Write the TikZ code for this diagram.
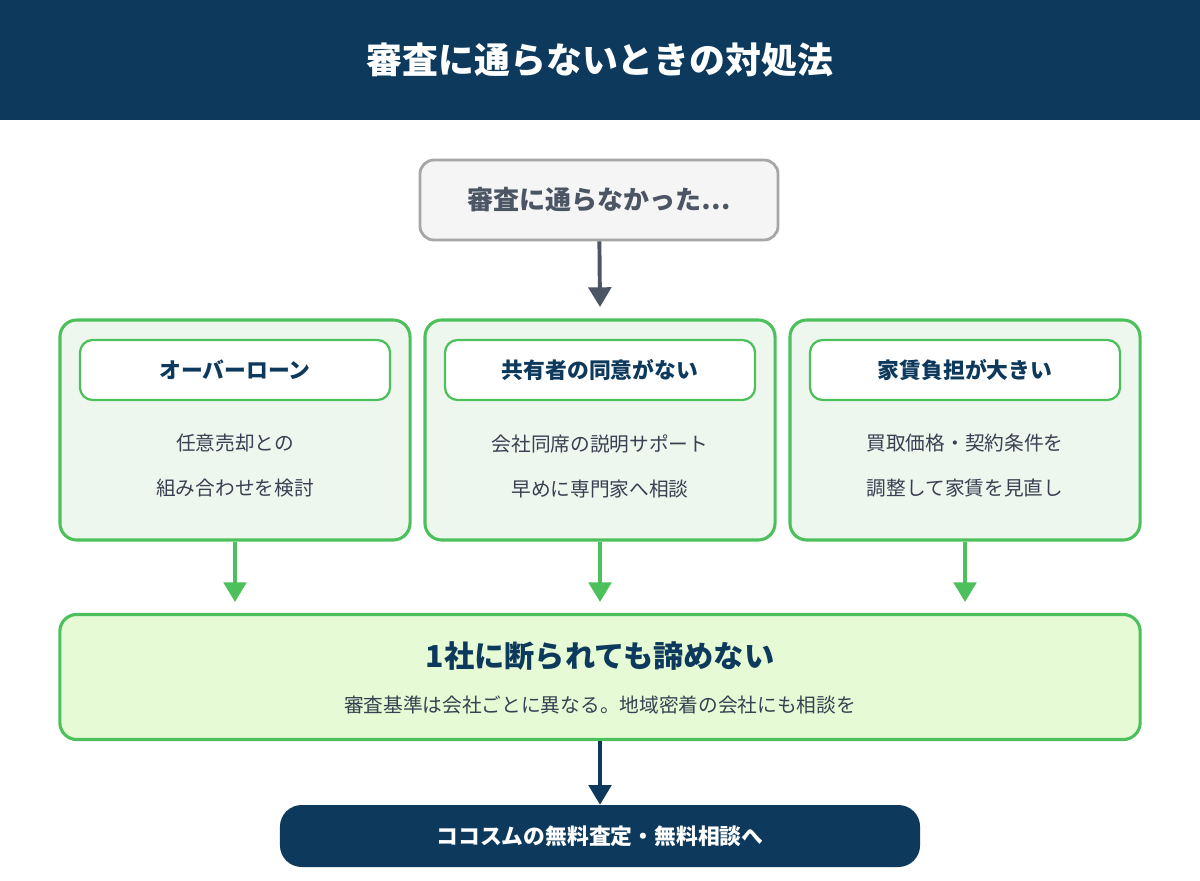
\documentclass[tikz,border=0pt]{standalone}
\usepackage{fontspec}
\setmainfont{Noto Sans CJK JP}
\usetikzlibrary{arrows.meta, positioning}
\definecolor{navy}{HTML}{0D3A5C}
\definecolor{leaf}{HTML}{4CC05A}
\definecolor{pale}{HTML}{EEF7EE}
\definecolor{lime}{HTML}{E6FBD5}
\definecolor{slate}{HTML}{4B5563}
\definecolor{ink}{HTML}{374151}
\tikzset{
  panel/.style={draw=leaf, line width=2.2pt, fill=pale, rounded corners=12pt,
    minimum width=8.75cm, minimum height=5.5cm},
  tag/.style={draw=leaf, line width=1.6pt, fill=white, rounded corners=9pt,
    minimum width=7.75cm, minimum height=1.5cm, text=navy,
    font=\fontsize{15.5}{18}\selectfont\bfseries},
  body/.style={text=ink, align=center, font=\fontsize{14}{32}\selectfont},
  down/.style={line width=2.8pt, -{Triangle[width=16pt,length=14pt]}},
}
\begin{document}
\begin{tikzpicture}[x=0.025cm, y=-0.025cm]
  \useasboundingbox (0,0) rectangle (1200,880);
  % header
  \fill[navy] (0,0) rectangle (1200,120);
  \node[text=white, font=\fontsize{25.5}{30}\selectfont\bfseries] (title) at (600,60) {審査に通らないときの対処法};
  % start
  \node[draw=gray!70, line width=2pt, fill=gray!8, rounded corners=10pt,
    minimum width=8.95cm, minimum height=2cm, text=slate,
    font=\fontsize{18.5}{22}\selectfont\bfseries] (start) at (599,200) {審査に通らなかった…};
  \coordinate (split) at (600,307);
  \draw[down, slate] (start) -- (split);
  % three cases
  \foreach \n/\x/\head/\lineA/\lineB in {
      loan/235/オーバーローン/任意売却との/組み合わせを検討,
      owner/600/共有者の同意がない/会社同席の説明サポート/早めに専門家へ相談,
      rent/965/家賃負担が大きい/買取価格・契約条件を/調整して家賃を見直し} {
    \node[panel] (\n) at (\x,430) {};
    \node[tag] (\n-tag) at (\x,370) {\head};
    \node[body] (\n-text) at (\x,466) {\lineA\\\lineB};
    \coordinate (\n-end) at (\x,602);
    \draw[down, leaf] (\n) -- (\n-end);
  }
  % summary
  \node[draw=leaf, line width=2.2pt, fill=lime, rounded corners=12pt,
    minimum width=27cm, minimum height=3.125cm] (keep) at (600,677) {};
  \node[text=navy, font=\fontsize{21.5}{26}\selectfont\bfseries] (keep-title) at (600,656) {1社に断られても諦めない};
  \node[text=ink, font=\fontsize{14}{17}\selectfont] (keep-text) at (600,705) {審査基準は会社ごとに異なる。地域密着の会社にも相談を};
  % call to action
  \node[fill=navy, rounded corners=15.5pt, minimum width=16cm, minimum height=1.55cm,
    text=white, font=\fontsize{15.5}{18}\selectfont\bfseries] (cta) at (600,836) {ココスムの無料査定・無料相談へ};
  \draw[down, navy] (keep) -- (cta);
\end{tikzpicture}
\end{document}
